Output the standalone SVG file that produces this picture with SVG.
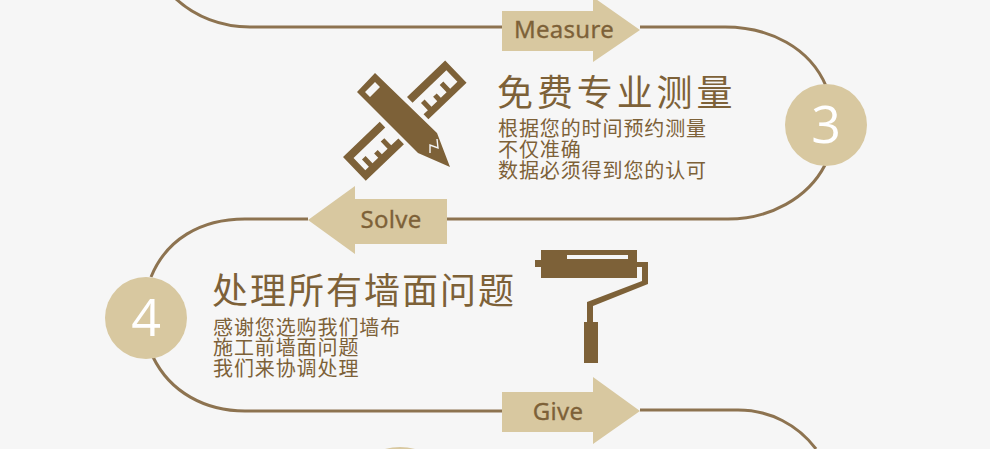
<svg xmlns="http://www.w3.org/2000/svg" width="990" height="449" viewBox="0 0 990 449">
<style>
.bg{fill:#f6f6f6}
.line{fill:none;stroke:#8d7350;stroke-width:3}
.arrow{fill:#d8c8a0}
.circle{fill:#d8c8a0}
.alabel{font-family:"Noto Sans","Open Sans",sans-serif;font-size:24px;fill:#7d6138;stroke:#7d6138;stroke-width:.3;text-anchor:middle;letter-spacing:.3px}
.num{font-family:"Open Sans","Noto Sans",sans-serif;font-size:52px;fill:#fff;text-anchor:middle}
.h{font-family:"Noto Sans CJK SC",sans-serif;font-size:36px;fill:#7d6138}
.b{font-family:"Noto Sans CJK SC",sans-serif;font-size:20px;fill:#7d6138;letter-spacing:.9px}
.icon{fill:#7d6138}
</style>
<rect class="bg" width="990" height="449"/>
<g id="connectors">
<path class="line" d="M175,-2C195,17 222,27 250,27H502"/>
<path class="line" d="M640,27H725C770,27 810,48 826,86"/>
<path class="line" d="M825,165C808,198 770,219 728,219H447"/>
<path class="line" d="M308,219H245C200,219 166,240 151,277"/>
<path class="line" d="M153,357C170,392 205,411 245,411H502"/>
<path class="line" d="M640,410H738C770,410 798,425 816,449"/>
</g>
<g id="arrow-measure"><polygon class="arrow" points="502,11 593,11 593,-3 640,30 593,62 593,51 502,51"/><text class="alabel" x="564" y="38">Measure</text></g>
<g id="arrow-solve"><polygon class="arrow" points="447,199 355,199 355,186 308,220 355,254 355,244 447,244"/><text class="alabel" x="391" y="228">Solve</text></g>
<g id="arrow-give"><polygon class="arrow" points="502,392 593,392 593,377 640,411 593,444 593,432 502,432"/><text class="alabel" x="558" y="420">Give</text></g>
<g id="node-3"><circle class="circle" cx="826" cy="125" r="41"/><text class="num" x="826" y="143">3</text></g>
<g id="node-4"><circle class="circle" cx="146" cy="318" r="41"/><text class="num" x="146" y="336">4</text></g>
<g id="step-3">
<path class="icon" transform="matrix(.72 -.69 .69 .72 407 97)" d="M0,0H53V31H0V24H6V14H11V24H19V18H24V24H32V14H37V24H47V8H0Z"/>
<path class="icon" transform="matrix(.72 -.69 .69 .72 343 157)" d="M0,0H51V8H7V25H12V15H17V25H25V19H30V25H38V15H43V25H53V33H0Z"/>
<path class="icon" fill-rule="evenodd" d="M375,73L437,133L450,167L418,153L357,92ZM375,82L365,92L370,97L380,87Z"/>
<path fill="none" stroke="#f6f6f6" stroke-width="1.4" d="M437,139L438,148L430,145L430,153"/>
</g>
<g id="step-3-text">
<text class="h" x="497" y="106" style="letter-spacing:3.9px">免费专业测量</text>
<text class="b" x="498" y="136">根据您的时间预约测量</text>
<text class="b" x="498" y="157">不仅准确</text>
<text class="b" x="498" y="178">数据必须得到您的认可</text>
</g>
<g id="step-4">
<path class="icon" fill-rule="evenodd" d="M541,250H637V278H541V267H535V260H541ZM567,255V259H628V255Z"/>
<path class="icon" d="M637,262H648V284L593,306V322H598V363H584V322H587V302L642,281V267H637Z"/>
</g>
<g id="step-4-text">
<text class="h" x="212" y="304" style="letter-spacing:2px">处理所有墙面问题</text>
<text class="b" x="213" y="335">感谢您选购我们墙布</text>
<text class="b" x="213" y="355">施工前墙面问题</text>
<text class="b" x="213" y="376">我们来协调处理</text>
</g>
<path id="next-node" class="circle" d="M385,449Q400,445 415,449Z"/>
</svg>
